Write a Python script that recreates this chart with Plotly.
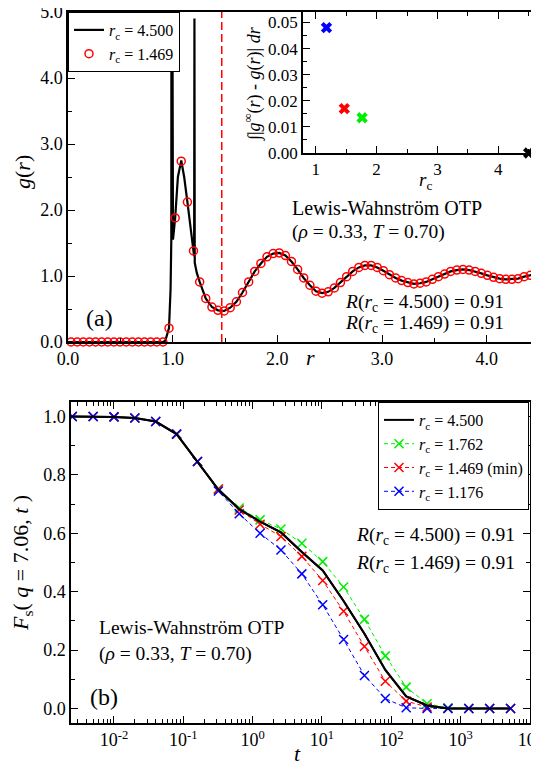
import plotly.graph_objects as go

# ---------------- panel (a): g(r) ----------------
r_pts = [0.029, 0.088, 0.146, 0.205, 0.263, 0.322, 0.380, 0.439, 0.497, 0.556,
         0.614, 0.673, 0.731, 0.790, 0.848, 0.907, 0.965, 1.024, 1.082, 1.141,
         1.199, 1.258, 1.316, 1.375, 1.433, 1.492, 1.550, 1.609, 1.667, 1.726,
         1.784, 1.843, 1.901, 1.960, 2.018, 2.077, 2.135, 2.194, 2.252, 2.311,
         2.369, 2.428, 2.486, 2.545, 2.603, 2.662, 2.720, 2.779, 2.837, 2.896,
         2.954, 3.013, 3.071, 3.130, 3.188, 3.247, 3.305, 3.364, 3.422, 3.481,
         3.539, 3.598, 3.656, 3.715, 3.773, 3.832, 3.890, 3.949, 4.007, 4.066,
         4.124, 4.183, 4.241, 4.300, 4.358, 4.417, 4.475]
g_pts = [0.0, 0.0, 0.0, 0.0, 0.0, 0.0, 0.0, 0.0, 0.0, 0.0,
         0.0, 0.0, 0.0, 0.0, 0.0, 0.0, 0.21, 1.88, 2.74, 2.12,
         1.38, 0.91, 0.66, 0.53, 0.48, 0.47, 0.52, 0.61, 0.75, 0.91,
         1.07, 1.19, 1.29, 1.34, 1.35, 1.31, 1.22, 1.10, 0.97, 0.86,
         0.77, 0.74, 0.76, 0.82, 0.90, 0.99, 1.07, 1.13, 1.16, 1.16,
         1.13, 1.08, 1.02, 0.97, 0.93, 0.90, 0.88, 0.89, 0.91, 0.95,
         0.99, 1.03, 1.07, 1.09, 1.10, 1.09, 1.07, 1.04, 1.01, 0.98,
         0.96, 0.95, 0.95, 0.96, 0.99, 1.01, 1.03]

# black r_c = 4.500 curve in the first-peak region (with its spikes)
peak_r = [0.0, 0.907, 0.93, 0.965, 0.98, 0.987, 0.988, 0.992, 0.993, 0.997,
          0.998, 1.003, 1.024, 1.05, 1.082, 1.11, 1.141, 1.17, 1.199, 1.205,
          1.208, 1.211, 1.23]
peak_g = [0.0, 0.0, 0.02, 0.21, 0.8, 1.55, 4.9, 1.55, 4.9, 1.55,
          4.9, 1.55, 1.88, 2.5, 2.75, 2.5, 2.12, 1.75, 1.38, 1.3,
          4.9, 1.2, 1.05]

rc_min = 1.469

# inset: integrated deviation vs r_c
inset_rc = [1.176, 1.469, 1.762, 4.500]
inset_dev = [0.048, 0.017, 0.0135, 0.0]
inset_col = ["#0000ff", "#ff0000", "#00ee00", "#000000"]

# ---------------- panel (b): Fs(q,t) ----------------
t_vals = [0.0025, 0.005, 0.01, 0.02, 0.04, 0.08, 0.16, 0.32, 0.64, 1.28,
          2.56, 5.12, 10.24, 20.48, 40.96, 81.92, 163.84, 327.68, 655.36,
          1310.72, 2621.44, 5242.88]
fs_450 = [1.0, 1.0, 0.999, 0.995, 0.983, 0.94, 0.846, 0.75, 0.683, 0.64,
          0.603, 0.536, 0.473, 0.368, 0.256, 0.132, 0.041, 0.01, 0.0,
          0.0, 0.0, 0.0]
fs_1762 = [1.0, 1.0, 0.999, 0.995, 0.983, 0.94, 0.846, 0.752, 0.687, 0.646,
           0.615, 0.566, 0.503, 0.416, 0.305, 0.18, 0.073, 0.016, 0.002,
           0.0, 0.0, 0.0]
fs_1469 = [1.0, 1.0, 0.999, 0.995, 0.983, 0.94, 0.846, 0.752, 0.68, 0.631,
           0.589, 0.521, 0.438, 0.333, 0.212, 0.093, 0.025, 0.005, 0.0,
           0.0, 0.0, 0.0]
fs_1176 = [1.0, 1.0, 0.999, 0.995, 0.983, 0.94, 0.846, 0.745, 0.667, 0.60,
           0.543, 0.461, 0.355, 0.236, 0.113, 0.034, 0.002, 0.0, 0.0,
           0.0, 0.0, 0.0]

t_ticks = [0.01, 0.1, 1, 10, 100, 1000, 10000]
t_ticktext = ["10<sup>-2</sup>", "10<sup>-1</sup>", "10<sup>0</sup>", "10<sup>1</sup>",
              "10<sup>2</sup>", "10<sup>3</sup>", "10<sup>4</sup>"]

FONT = "'Liberation Serif', 'Times New Roman', Times, serif"
# the page body adds an 8 px margin; the figure is sized to fill the rest
OFF = 8
W, H = 539 - OFF, 765 - OFF

def px(x):
    return (x - OFF) / W

def py(y):
    return 1 - (y - OFF) / H

fig = go.Figure()

line_r = peak_r + r_pts[21:]
line_g = peak_g + g_pts[21:]
fig.add_trace(go.Scatter(x=line_r, y=line_g, mode="lines",
                         line=dict(color="black", width=2.2),
                         name="<i>r</i><sub>c</sub> = 4.500",
                         xaxis="x", yaxis="y", legend="legend"))
fig.add_trace(go.Scatter(x=r_pts, y=g_pts, mode="markers",
                         marker=dict(symbol="circle-open", size=8, color="#ff0000",
                                     line=dict(width=1.5, color="#ff0000")),
                         name="<i>r</i><sub>c</sub> = 1.469",
                         xaxis="x", yaxis="y", legend="legend", cliponaxis=False))
fig.add_trace(go.Scatter(x=[rc_min, rc_min], y=[0, 5], mode="lines",
                         line=dict(color="#ff0000", width=1.5, dash="8px,4px"),
                         showlegend=False, xaxis="x", yaxis="y"))

# inset
fig.add_trace(go.Scatter(x=inset_rc, y=inset_dev, mode="markers",
                         marker=dict(symbol="x", size=10, color=inset_col,
                                     line=dict(width=0)),
                         showlegend=False, xaxis="x2", yaxis="y2", cliponaxis=False))

# panel (b)
fig.add_trace(go.Scatter(x=t_vals, y=fs_450, mode="lines",
                         line=dict(color="black", width=2),
                         name="<i>r</i><sub>c</sub> = 4.500",
                         xaxis="x3", yaxis="y3", legend="legend2"))
for vals, col, nm in [(fs_1762, "#00ee00", "<i>r</i><sub>c</sub> = 1.762"),
                      (fs_1469, "#ff0000", "<i>r</i><sub>c</sub> = 1.469 (min)"),
                      (fs_1176, "#0000ff", "<i>r</i><sub>c</sub> = 1.176")]:
    fig.add_trace(go.Scatter(x=t_vals, y=vals, mode="lines+markers",
                             line=dict(color=col, width=1, dash="4px,3px"),
                             marker=dict(symbol="x-thin", size=9, color=col,
                                         line=dict(width=1.5, color=col)),
                             name=nm, xaxis="x3", yaxis="y3", legend="legend2"))
fig.add_trace(go.Scatter(x=t_vals, y=fs_450, mode="lines",
                         line=dict(color="black", width=2),
                         showlegend=False, xaxis="x3", yaxis="y3"))

tickfont = dict(family=FONT, size=18, color="black")
common = dict(showline=True, linecolor="black", linewidth=1.5, showgrid=False,
              zeroline=False, ticks="inside", ticklen=7, tickwidth=1.2,
              tickcolor="black", tickfont=tickfont, automargin=False,
              ticklabeloverflow="allow")

fig.update_layout(
    width=W, height=H,
    margin=dict(l=0, r=0, t=0, b=0, autoexpand=False),
    paper_bgcolor="white", plot_bgcolor="rgba(0,0,0,0)",
    font=dict(family=FONT, size=18, color="black"),
    xaxis=dict(domain=[px(68), 1.0], anchor="y", range=[0, 4.5], dtick=1,
               tick0=0, tickformat=".1f", mirror=True,
               minor=dict(dtick=0.5, ticks="inside", ticklen=4, tickcolor="black"),
               **common),
    yaxis=dict(domain=[py(342), py(12)], anchor="x", range=[0, 5], dtick=1,
               tick0=0, tickformat=".1f", mirror=True,
               minor=dict(dtick=0.5, ticks="inside", ticklen=4, tickcolor="black"),
               **common),
    xaxis2=dict(domain=[px(303), 1.0], anchor="y2", range=[0.79, 4.67], dtick=1,
                tick0=0, mirror="ticks",
                minor=dict(dtick=0.5, ticks="inside", ticklen=4, tickcolor="black"),
                **{**common, "tickfont": dict(family=FONT, size=17, color="black")}),
    yaxis2=dict(domain=[py(153), py(12)], anchor="x2", range=[0, 0.054], dtick=0.01,
                tick0=0, tickformat=".2f", mirror="ticks",
                minor=dict(dtick=0.005, ticks="inside", ticklen=4, tickcolor="black"),
                **{**common, "tickfont": dict(family=FONT, size=17, color="black")}),
    xaxis3=dict(domain=[px(71), px(530)], anchor="y3", type="log",
                range=[-2.62, 4.0], tickvals=t_ticks, ticktext=t_ticktext,
                mirror="ticks",
                minor=dict(dtick="D1", ticks="inside", ticklen=4, tickcolor="black"),
                **common),
    yaxis3=dict(domain=[py(723), py(402)], anchor="x3", range=[-0.05, 1.05],
                dtick=0.2, tick0=0, tickformat=".1f", mirror="ticks",
                minor=dict(dtick=0.1, ticks="inside", ticklen=4, tickcolor="black"),
                **common),
    legend=dict(x=px(68), y=py(12), xanchor="left", yanchor="top",
                bgcolor="white", bordercolor="black", borderwidth=1,
                font=dict(family=FONT, size=16, color="black"),
                itemwidth=30, tracegroupgap=0),
    legend2=dict(x=px(529), y=py(402), xanchor="right", yanchor="top",
                 bgcolor="white", bordercolor="black", borderwidth=1,
                 font=dict(family=FONT, size=16, color="black"),
                 itemwidth=30, tracegroupgap=0),
)

def ann(text, x, y, size=19.5, angle=0, xanchor="center"):
    fig.add_annotation(text=text, x=px(x), y=py(y), xref="paper", yref="paper",
                       showarrow=False, textangle=angle, xanchor=xanchor,
                       yanchor="middle",
                       font=dict(family=FONT, size=size, color="black"))

# axis titles
ann("<i>g</i>(<i>r</i>)", 22, 172, size=22, angle=-90)
ann("<i>r</i>", 310, 357, size=22)
ann("∫|<i>g</i><sup>∞</sup>(<i>r</i>) - <i>g</i>(<i>r</i>)| <i>dr</i>", 253, 84, size=18, angle=-90)
ann("<i>r</i><sub>c</sub>", 425, 181, size=19)
ann("<i>F</i><sub>s</sub>( <i>q</i> = 7.06, <i>t</i> )", 22, 563, size=22, angle=-90)
ann("<i>t</i>", 297, 753, size=22)

# panel texts
ann("Lewis-Wahnström OTP", 290, 208, size=20, xanchor="left")
ann("(<i>ρ</i> = 0.33, <i>T</i> = 0.70)", 290, 232, xanchor="left")
ann("<i>R</i>(<i>r</i><sub>c</sub> = 4.500) = 0.91", 343, 303, xanchor="left")
ann("<i>R</i>(<i>r</i><sub>c</sub> = 1.469) = 0.91", 343, 324, xanchor="left")
ann("(a)", 99, 318, size=24)

ann("<i>R</i>(<i>r</i><sub>c</sub> = 4.500) = 0.91", 354, 536, xanchor="left")
ann("<i>R</i>(<i>r</i><sub>c</sub> = 1.469) = 0.91", 354, 564, xanchor="left")
ann("Lewis-Wahnström OTP", 97, 627, xanchor="left")
ann("(<i>ρ</i> = 0.33, <i>T</i> = 0.70)", 97, 654, xanchor="left")
ann("(b)", 104, 697, size=24)

fig.write_html("out.html")
